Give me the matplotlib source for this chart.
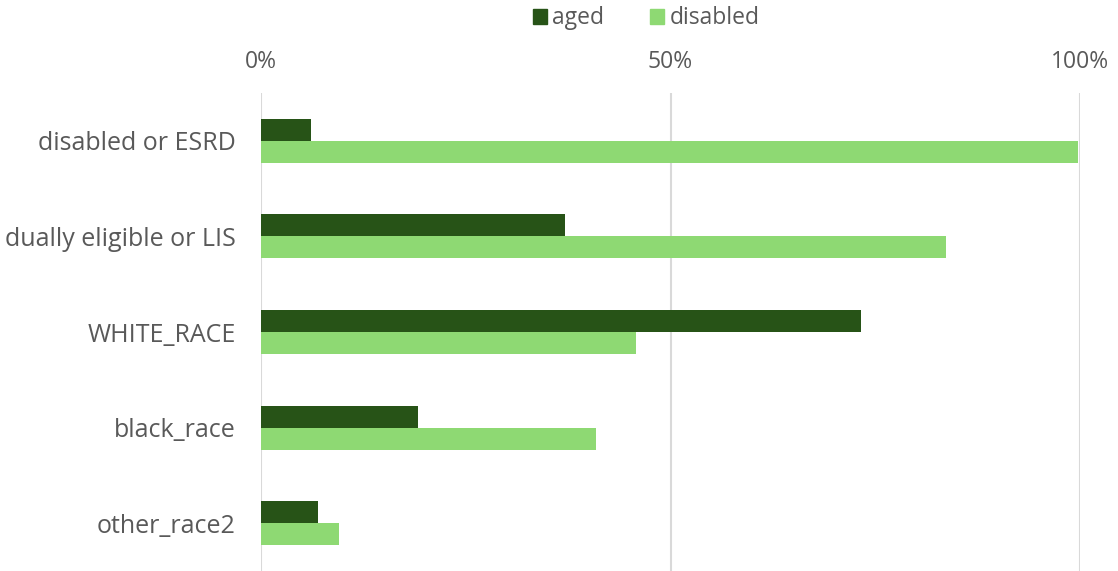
import matplotlib.pyplot as plt
import numpy as np
from matplotlib.ticker import PercentFormatter
from matplotlib.patches import Patch

categories = ["disabled or ESRD", "dually eligible or LIS", "WHITE_RACE", "black_race", "other_race2"]
aged = [6.1, 37.1, 73.2, 19.2, 7.0]
disabled = [99.8, 83.6, 45.8, 40.9, 9.5]
series_names = ["aged", "disabled"]
ticks = [0, 50, 100]

plt.rcParams['font.family'] = ['Open Sans', 'DejaVu Sans']
text_color = "#595959"
aged_color = "#275317"
disabled_color = "#8ED973"

fig = plt.figure(figsize=(11.18, 5.71), dpi=100)
ax = fig.add_axes([261 / 1118, 0, (1080 - 261) / 1118, (571 - 93) / 571])

y = np.arange(len(categories))
h = 0.23
ax.barh(y - h / 2, aged, height=h, color=aged_color, zorder=3)
ax.barh(y + h / 2, disabled, height=h, color=disabled_color, zorder=3)

ax.set_xlim(0, 100)
ax.set_ylim(len(categories) - 0.5, -0.5)
ax.set_yticks(y)
ax.set_yticklabels(categories, fontsize=18, color=text_color)
ax.set_xticks(ticks)
ax.xaxis.set_major_formatter(PercentFormatter(decimals=0))
ax.xaxis.tick_top()
ax.tick_params(axis='x', labelsize=16.5, colors=text_color, length=0, pad=14)
ax.tick_params(axis='y', length=0, pad=18)
ax.grid(axis='x', color="#D9D9D9", linewidth=1.5, zorder=0)
for s in ax.spines.values():
    s.set_visible(False)

handles = [Patch(color=aged_color), Patch(color=disabled_color)]
fig.legend(handles, series_names, loc='upper center', bbox_to_anchor=(0.578, 1.025), ncol=2,
           frameon=False, fontsize=16.5, labelcolor=text_color, handlelength=0.6, handleheight=0.6,
           handletextpad=0.25, columnspacing=2.0)

fig.savefig("out.png", dpi=100)
